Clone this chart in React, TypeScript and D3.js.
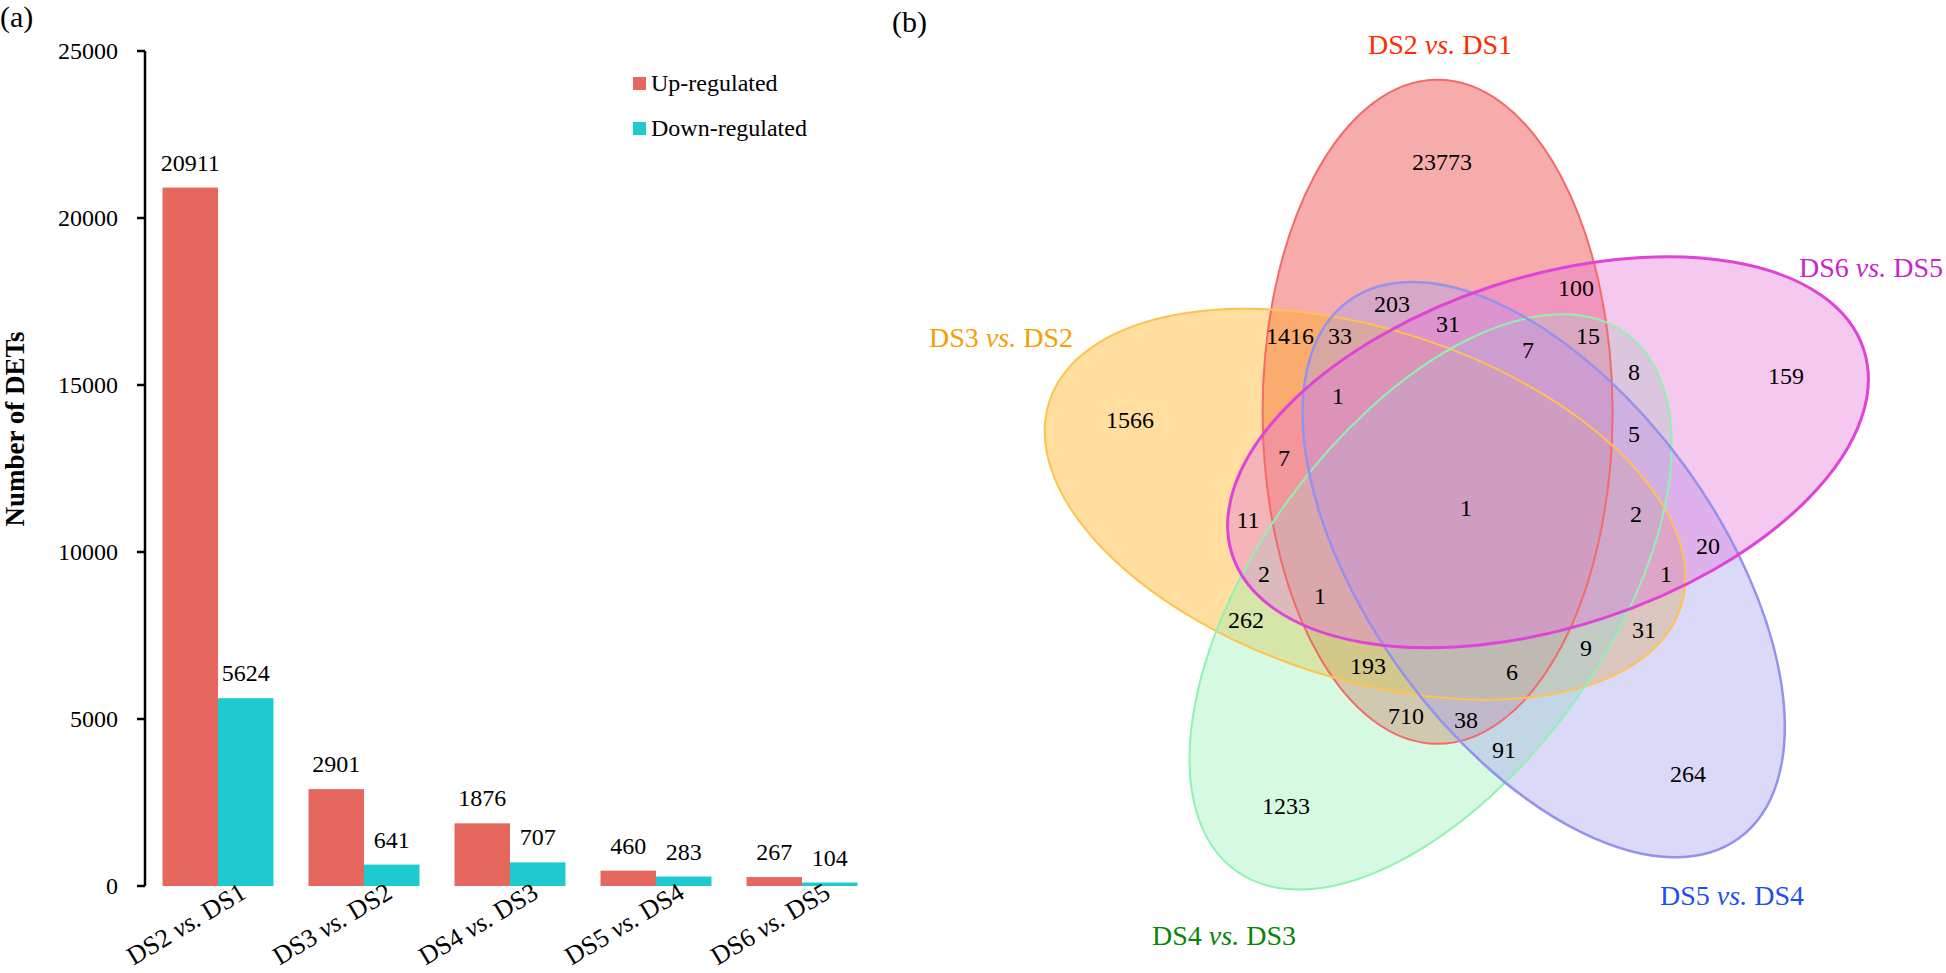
import React, { useMemo } from "react";
import * as d3 from "d3";

// ---------- data ----------
const categories = ["DS2 vs. DS1", "DS3 vs. DS2", "DS4 vs. DS3", "DS5 vs. DS4", "DS6 vs. DS5"];
const upRegulated = [20911, 2901, 1876, 460, 267];
const downRegulated = [5624, 641, 707, 283, 104];
const yTicks = [0, 5000, 10000, 15000, 20000, 25000];
const seriesNames = ["Up-regulated", "Down-regulated"];

const vennSets = ["DS2 vs. DS1", "DS3 vs. DS2", "DS4 vs. DS3", "DS5 vs. DS4", "DS6 vs. DS5"];
const regionKeys = [
  "A", "B", "C", "D", "E",
  "AB", "AC", "AD", "AE", "BC", "BD", "BE", "CD", "CE", "DE",
  "ABC", "ABD", "ABE", "ACD", "ACE", "ADE", "BCD", "BCE", "BDE", "CDE",
  "ABCD", "ABCE", "ABDE", "ACDE", "BCDE", "ABCDE",
];
const regionCounts = [
  23773, 1566, 1233, 264, 159,
  1416, 710, 203, 100, 262, 31, 11, 91, 8, 20,
  193, 33, 7, 38, 15, 31, 9, 2, 1, 5,
  6, 1, 1, 7, 2, 1,
];

// ---------- style / layout ----------
const FONT = "'Liberation Serif', 'Times New Roman', Times, serif";
const UP_COLOR = "#e5675e";
const DOWN_COLOR = "#1ccad0";
const SET_FILL = ["#eb2f2f", "#ffac11", "#96f2b4", "#a5a0ed", "#e675d9"];
const SET_OPACITY = 0.4;
const SET_STROKE = ["#f46a6a", "#ffc24f", "#8ef2b0", "#9591ee", "#e043d8"];
const SET_STROKE_W = [2, 2, 2, 2.5, 3];
const SET_TEXT = ["#ff2a00", "#f2a000", "#088408", "#1f4ff0", "#cc22cc"];
const VC = { x: 1465, y: 508 };
const VR = 100;
const EA = 175;
const EB = 332;
const LABEL_OFF = [
  [-25, -454],
  [-464, -161],
  [-241, 437],
  [267, 397],
  [406, -231],
];

function ellipses() {
  return vennSets.map((_, i) => {
    const ang = ((254.1 - 72 * i) * Math.PI) / 180;
    return {
      cx: VC.x + VR * Math.cos(ang),
      cy: VC.y + VR * Math.sin(ang),
      rot: -72 * i,
    };
  });
}

function Label({ text, ...rest }: any) {
  const parts = text.split(" vs. ");
  return (
    <text {...rest}>
      {parts[0] + " "}
      <tspan fontStyle="italic">vs.</tspan>
      {" " + parts[1]}
    </text>
  );
}

export default function App() {
  const x0 = d3.scaleBand().domain(categories).range([145, 875]).paddingInner(0.24).paddingOuter(0.12);
  const x1 = d3.scaleBand().domain(seriesNames).range([0, x0.bandwidth()]);
  const y = d3.scaleLinear().domain([0, 25000]).range([886, 51]);
  const series = [upRegulated, downRegulated];
  const colors = [UP_COLOR, DOWN_COLOR];

  const ells = useMemo(ellipses, []);

  const labelPos = useMemo(() => {
    const best: Record<string, { d: number; x: number; y: number }> = {};
    const trig = ells.map((e) => {
      const t = (e.rot * Math.PI) / 180;
      return { c: Math.cos(t), s: Math.sin(t) };
    });
    for (let px = 1000; px <= 1900; px += 2) {
      for (let py = 60; py <= 910; py += 2) {
        let key = "";
        let md = Infinity;
        for (let i = 0; i < ells.length; i++) {
          const e = ells[i];
          const dx = px - e.cx;
          const dy = py - e.cy;
          const lx = dx * trig[i].c + dy * trig[i].s;
          const ly = -dx * trig[i].s + dy * trig[i].c;
          const f = (lx / EA) ** 2 + (ly / EB) ** 2;
          const g = Math.hypot((2 * lx) / (EA * EA), (2 * ly) / (EB * EB)) || 1e-9;
          const d = Math.abs(f - 1) / g;
          if (f <= 1) key += "ABCDE"[i];
          if (d < md) md = d;
        }
        if (!key) continue;
        if (!best[key] || md > best[key].d) best[key] = { d: md, x: px, y: py };
      }
    }
    return best;
  }, [ells]);

  return (
    <svg
      width={1946}
      height={973}
      style={{ position: "absolute", left: 0, top: 0, background: "#fff" }}
      fontFamily={FONT}
    >
      {/* panel labels */}
      <text x={0} y={27} fontSize={30}>(a)</text>
      <text x={892} y={32} fontSize={30}>(b)</text>

      {/* ---------- bar chart ---------- */}
      <text
        transform={`translate(24,429) rotate(-90)`}
        textAnchor="middle"
        fontSize={27}
        fontWeight="bold"
      >
        Number of DETs
      </text>
      <line x1={145} x2={145} y1={y(25000)} y2={y(0)} stroke="#000" strokeWidth={2.5} />
      {yTicks.map((t) => (
        <g key={t}>
          <line x1={137} x2={145} y1={y(t)} y2={y(t)} stroke="#000" strokeWidth={2.5} />
          <text x={118} y={y(t)} dy="0.35em" textAnchor="end" fontSize={24}>
            {t}
          </text>
        </g>
      ))}
      {categories.map((c, ci) => (
        <g key={c} transform={`translate(${x0(c)},0)`}>
          {series.map((s, si) => (
            <g key={si}>
              <rect
                x={x1(seriesNames[si])}
                y={y(s[ci])}
                width={x1.bandwidth()}
                height={y(0) - y(s[ci])}
                fill={colors[si]}
              />
              <text
                x={(x1(seriesNames[si]) as number) + x1.bandwidth() / 2}
                y={y(s[ci]) - 17}
                textAnchor="middle"
                fontSize={24}
              >
                {s[ci]}
              </text>
            </g>
          ))}
        </g>
      ))}
      {categories.map((c) => (
        <Label
          key={c}
          text={c}
          transform={`translate(${(x0(c) as number) + x0.bandwidth() / 2 + 30},897) rotate(-31)`}
          textAnchor="end"
          fontSize={26}
        />
      ))}
      {/* legend */}
      {seriesNames.map((n, i) => (
        <g key={n}>
          <rect x={633} y={77 + i * 45} width={13} height={13} fill={colors[i]} />
          <text x={651} y={91 + i * 45} fontSize={24}>
            {n}
          </text>
        </g>
      ))}

      {/* ---------- venn ---------- */}
      {ells.map((e, i) => (
        <ellipse
          key={"f" + i}
          cx={0}
          cy={0}
          rx={EA}
          ry={EB}
          transform={`translate(${e.cx},${e.cy}) rotate(${e.rot})`}
          fill={SET_FILL[i]}
          fillOpacity={SET_OPACITY}
        />
      ))}
      {ells.map((e, i) => (
        <ellipse
          key={"s" + i}
          cx={0}
          cy={0}
          rx={EA}
          ry={EB}
          transform={`translate(${e.cx},${e.cy}) rotate(${e.rot})`}
          fill="none"
          stroke={SET_STROKE[i]}
          strokeWidth={SET_STROKE_W[i]}
        />
      ))}
      {regionKeys.map((k, i) => {
        const p = labelPos[k];
        if (!p) return null;
        return (
          <text key={k} x={p.x} y={p.y} dy="0.35em" textAnchor="middle" fontSize={24}>
            {regionCounts[i]}
          </text>
        );
      })}
      {vennSets.map((s, i) => (
        <Label
          key={s}
          text={s}
          x={VC.x + LABEL_OFF[i][0]}
          y={VC.y + LABEL_OFF[i][1]}
          textAnchor="middle"
          fontSize={28}
          fill={SET_TEXT[i]}
        />
      ))}
    </svg>
  );
}
